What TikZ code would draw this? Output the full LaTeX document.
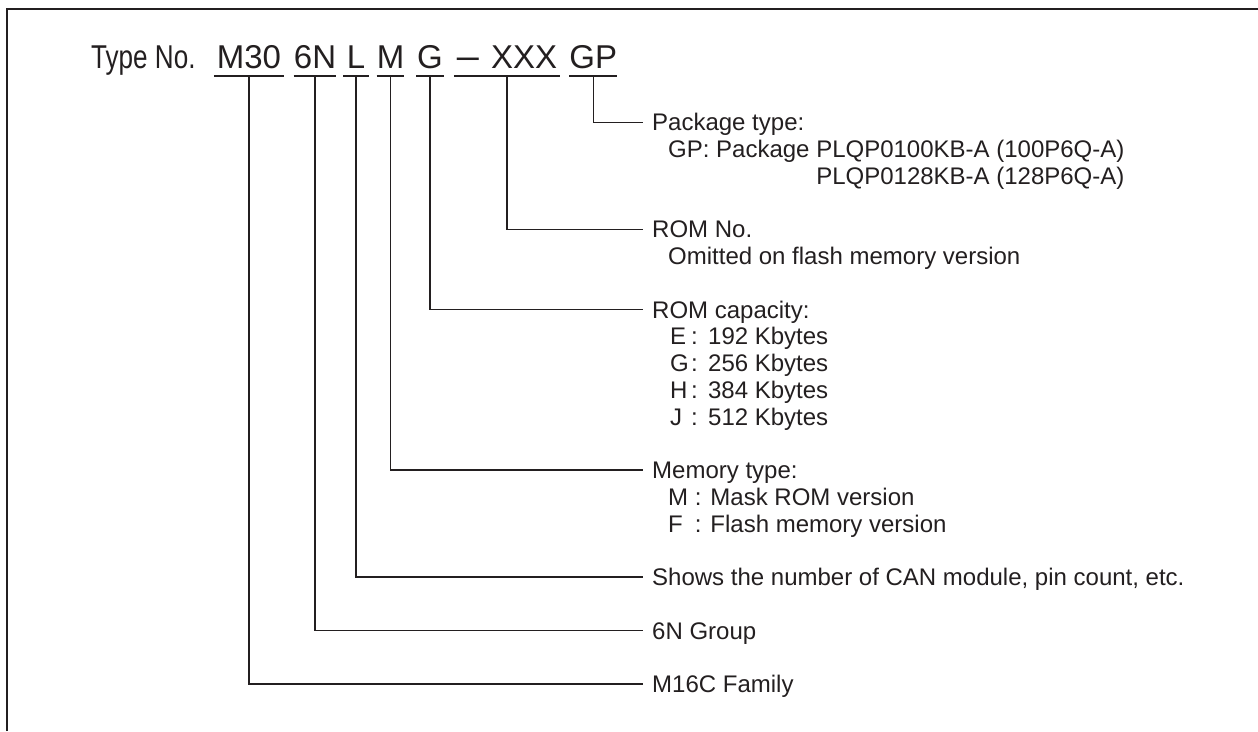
\documentclass[tikz,border=0pt]{standalone}
\usepackage{fontspec}
\setmainfont{Liberation Sans}
\usepackage{graphicx}
\definecolor{ink}{HTML}{231F20}
\begin{document}
\begin{tikzpicture}[x=1pt,y=-1pt,
  every node/.style={text=ink, inner sep=0pt},
  seg/.style={font=\fontsize{33}{33}\selectfont, anchor=base, text depth=8pt, inner sep=0pt},
  uline/.style={draw=ink, line width=1.5pt},
  lead/.style={draw=ink, line width=1.3pt},
  frame/.style={draw=ink, line width=2pt},
  title/.style={font=\fontsize{24}{26}\selectfont, anchor=west, inner xsep=9pt, inner ysep=0pt, text height=17.2pt, text depth=0pt},
  sub/.style={font=\fontsize{24}{26}\selectfont, anchor=base west},
]
\useasboundingbox (0,0) rectangle (1258,731);
% frame (top and left edges)
\draw[frame] (7,731) -- (7,8.5) -- (1258,8.5);

% header
\node[font=\fontsize{33}{33}\selectfont, anchor=base west] (typeno) at (91,68) {\scalebox{0.79}[1]{Type No.}};
\node[seg, minimum width=70pt] (sM30) at (249,68) {M30};
\node[seg, minimum width=42pt] (s6N) at (315,68) {6N};
\node[seg, minimum width=25pt] (sL) at (356,68) {L};
\node[seg, minimum width=27pt] (sM) at (390.5,68) {M};
\node[seg, minimum width=27pt] (sG) at (430,68) {G};
\node[seg, minimum width=106pt] (sX) at (507,68) {\scalebox{1.2}[1.1]{–}\hspace{12pt}XXX};
\node[seg, minimum width=46.7pt] (sGP) at (593.3,68) {GP};

\foreach \s in {sM30,s6N,sL,sM,sG,sX,sGP}
  \draw[uline] (\s.south west) -- (\s.south east);

% titles
\node[title] (tPkg) at (643,122.3) {Package type:};
\node[title] (tRomNo) at (643,229.3) {ROM No.};
\node[title] (tCap) at (643,309.55) {ROM capacity:};
\node[title] (tMem) at (643,470.05) {Memory type:};
\node[title] (tCan) at (643,577.05) {Shows the number of CAN module, pin count, etc.};
\node[title] (tGrp) at (643,630.55) {6N Group};
\node[title] (tFam) at (643,684.05) {M16C Family};

% sub lines
\node[sub] (p1) at (668,157.65) {GP: Package PLQP0100KB-A (100P6Q-A)};
\node[sub] (p2) at (668,184.4) {\phantom{GP: Package }PLQP0128KB-A (128P6Q-A)};
\node[sub] (r1) at (668,264.65) {Omitted on flash memory version};
\node[sub] (c1) at (670,344.9) {\makebox[21pt][l]{E}:\hspace{10.3pt}192 Kbytes};
\node[sub] (c2) at (670,371.65) {\makebox[21pt][l]{G}:\hspace{10.3pt}256 Kbytes};
\node[sub] (c3) at (670,398.4) {\makebox[21pt][l]{H}:\hspace{10.3pt}384 Kbytes};
\node[sub] (c4) at (670,425.15) {\makebox[21pt][l]{J}:\hspace{10.3pt}512 Kbytes};
\node[sub] (m1) at (668,505.4) {\makebox[26.7pt][l]{M}: Mask ROM version};
\node[sub] (m2) at (668,532.15) {\makebox[26.7pt][l]{F}: Flash memory version};

% leaders
\draw[lead] (sGP.south) |- (tPkg.west);
\draw[lead] (sX.south) |- (tRomNo.west);
\draw[lead] (sG.south) |- (tCap.west);
\draw[lead] (sM.south) |- (tMem.west);
\draw[lead] (sL.south) |- (tCan.west);
\draw[lead] (s6N.south) |- (tGrp.west);
\draw[lead] (sM30.south) |- (tFam.west);
\end{tikzpicture}
\end{document}
